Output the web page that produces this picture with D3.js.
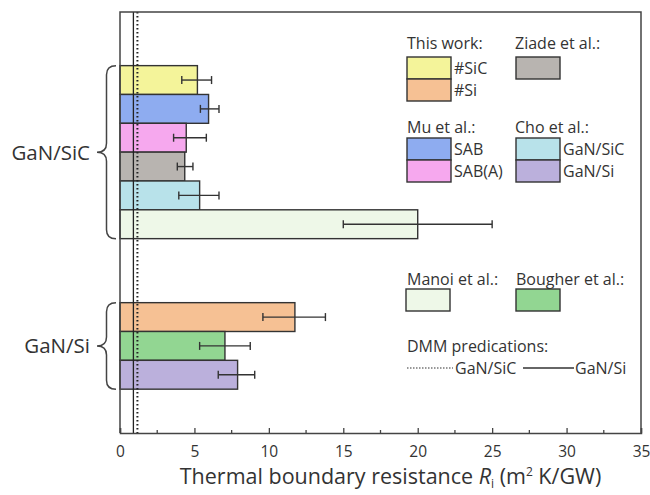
<!DOCTYPE html>
<html>
<head>
<meta charset="utf-8">
<script src="https://cdn.jsdelivr.net/npm/d3@7"></script>
<style>
  body { margin: 0; background: #fff; }
  text { font-family: "Open Sans", Lato, sans-serif; fill: #333; }
</style>
</head>
<body>
<div class="chart"></div>
<script>
// TBR bar chart, GaN/SiC vs GaN/Si

var svgWidth = 650;
var svgHeight = 495;

// data
var barNames = ["This work #SiC", "Mu SAB", "Mu SAB(A)", "Ziade", "Cho GaN/SiC", "Manoi",
                "This work #Si", "Bougher", "Cho GaN/Si"];
var barGroups = ["GaN/SiC", "GaN/SiC", "GaN/SiC", "GaN/SiC", "GaN/SiC", "GaN/SiC",
                 "GaN/Si", "GaN/Si", "GaN/Si"];
var tbrValues = [5.2, 5.95, 4.45, 4.35, 5.35, 20.0, 11.75, 7.05, 7.9];
var errLow = [4.15, 5.4, 3.6, 3.85, 3.95, 15.0, 9.6, 5.35, 6.6];
var errHigh = [6.15, 6.65, 5.8, 4.9, 6.65, 25.0, 13.8, 8.75, 9.05];
var groupNames = ["GaN/SiC", "GaN/Si"];
var dmmNames = ["GaN/SiC", "GaN/Si"];
var dmmValues = [1.17, 0.9];
var xTicks = [0, 5, 10, 15, 20, 25, 30, 35];

var barColors = ["#f4f49a", "#8eacf0", "#f6a8ee", "#b8b4b0", "#b8e2ea", "#eef8e8",
                 "#f6c194", "#92d692", "#bbb0dc"];

var color = d3.scaleOrdinal().domain(barNames).range(barColors);

var margin = { top: 12, right: 9, bottom: 62, left: 120 };

var svg = d3.select(".chart")
  .append("svg")
  .attr("width", svgWidth)
  .attr("height", svgHeight);

var x = d3.scaleLinear()
  .domain([0, 35])
  .range([margin.left, svgWidth - margin.right]);

// vertical layout in "row" units; second group is pushed down by a gap
var y = d3.scaleLinear()
  .domain([0, 14.6])
  .range([margin.top, svgHeight - margin.bottom]);

function slot(i) {
  return 1.86 + i + (barGroups[i] === "GaN/Si" ? 2.22 : 0);
}

var bars = barNames.map(function(name, i) {
  return { name: name, group: barGroups[i], value: tbrValues[i], lo: errLow[i], hi: errHigh[i], s: slot(i) };
});

// bars
svg.append("g").selectAll("rect")
  .data(bars)
  .enter().append("rect")
    .attr("x", x(0))
    .attr("y", function(d) { return y(d.s); })
    .attr("width", function(d) { return x(d.value) - x(0); })
    .attr("height", function(d) { return y(d.s + 1) - y(d.s); })
    .attr("fill", function(d) { return color(d.name); })
    .attr("stroke", "#333")
    .attr("stroke-width", 1.4);

// error bars
var err = svg.append("g").attr("stroke", "#333").attr("stroke-width", 1.4);
err.selectAll("line.e")
  .data(bars)
  .enter().append("line")
    .attr("class", "e")
    .attr("x1", function(d) { return x(d.lo); })
    .attr("x2", function(d) { return x(d.hi); })
    .attr("y1", function(d) { return y(d.s + 0.5); })
    .attr("y2", function(d) { return y(d.s + 0.5); });
bars.forEach(function(d) {
  [d.lo, d.hi].forEach(function(v) {
    err.append("line")
      .attr("x1", x(v)).attr("x2", x(v))
      .attr("y1", y(d.s + 0.5) - 4).attr("y2", y(d.s + 0.5) + 4);
  });
});

// DMM prediction lines
svg.append("g").selectAll("line")
  .data(dmmValues)
  .enter().append("line")
    .attr("x1", function(d) { return x(d); })
    .attr("x2", function(d) { return x(d); })
    .attr("y1", y(0))
    .attr("y2", y(14.6))
    .attr("stroke", "#222")
    .attr("stroke-width", function(d, i) { return i === 0 ? 2 : 1.3; })
    .attr("stroke-dasharray", function(d, i) { return i === 0 ? "1.6,2.4" : null; });

// frame
svg.append("path")
  .attr("d", "M" + x(0) + "," + y(14.6) + "V" + y(0) + "H" + x(35) + "V" + y(14.6))
  .attr("fill", "none")
  .attr("stroke", "#444")
  .attr("stroke-width", 1.5);

// x axis, ticks point inward
var bottomAxis = d3.axisBottom(x).tickValues(xTicks).tickSize(-5).tickPadding(13);
var xAxis = svg.append("g")
  .attr("transform", "translate(0," + y(14.6) + ")")
  .call(bottomAxis);
xAxis.select(".domain").attr("stroke", "#444").attr("stroke-width", 1.5);
xAxis.selectAll(".tick line").attr("stroke", "#444").attr("stroke-width", 1.3);
xAxis.selectAll("text").style("font-size", "15.5px").attr("fill", "#444")
  .style("font-family", "'Open Sans', sans-serif");
xAxis.selectAll(".minor")
  .data(d3.range(2.5, 35, 5))
  .enter().append("line")
    .attr("class", "minor")
    .attr("x1", function(d) { return x(d); })
    .attr("x2", function(d) { return x(d); })
    .attr("y1", 0).attr("y2", -3)
    .attr("stroke", "#444").attr("stroke-width", 1.3);

// axis title
var title = svg.append("text")
  .attr("x", (x(0) + x(35)) / 2 + 10)
  .attr("y", 484)
  .attr("text-anchor", "middle")
  .style("font-size", "21.5px");
title.append("tspan").text("Thermal boundary resistance ");
title.append("tspan").style("font-style", "italic").text("R");
title.append("tspan").attr("dy", 4).style("font-size", "12px").text("i");
title.append("tspan").attr("dy", -4).text(" (m");
title.append("tspan").attr("dy", -8).style("font-size", "12px").text("2");
title.append("tspan").attr("dy", 8).text(" K/GW)");

// group braces and labels
groupNames.forEach(function(g) {
  var idx = d3.range(barNames.length).filter(function(i) { return barGroups[i] === g; });
  var y0 = y(slot(idx[0])), y1 = y(slot(idx[idx.length - 1]) + 1), ym = (y0 + y1) / 2;
  var xr = 116, xs = 106.5, xt = 97, r = 9;
  svg.append("path")
    .attr("d", "M" + xr + "," + y0 + "Q" + xs + "," + y0 + " " + xs + "," + (y0 + r) +
      "V" + (ym - r) + "Q" + xs + "," + ym + " " + xt + "," + ym +
      "Q" + xs + "," + ym + " " + xs + "," + (ym + r) +
      "V" + (y1 - r) + "Q" + xs + "," + y1 + " " + xr + "," + y1)
    .attr("fill", "none")
    .attr("stroke", "#444")
    .attr("stroke-width", 1.5);
  svg.append("text")
    .attr("x", 90)
    .attr("y", ym + 7.5)
    .attr("text-anchor", "end")
    .style("font-size", "20.5px")
    .text(g);
});

// legend
var legend = svg.append("g").style("font-size", "16px");
function head(px, py, t) {
  legend.append("text").attr("x", px).attr("y", py).text(t);
}
function swatch(px, py, name, t) {
  legend.append("rect")
    .attr("x", px).attr("y", py).attr("width", 44).attr("height", 22)
    .attr("fill", color(name)).attr("stroke", "#333").attr("stroke-width", 1.4);
  if (t) legend.append("text").attr("x", px + 47).attr("y", py + 16.5).text(t);
}
head(407, 48.5, "This work:");
swatch(407, 57, barNames[0], "#SiC");
swatch(407, 79, barNames[6], "#Si");
head(515, 48.5, "Ziade et al.:");
swatch(516, 57, barNames[3]);
head(407, 132.5, "Mu et al.:");
swatch(407, 138, barNames[1], "SAB");
swatch(407, 160, barNames[2], "SAB(A)");
head(515, 132.5, "Cho et al.:");
swatch(516, 138, barNames[4], "GaN/SiC");
swatch(516, 160, barNames[8], "GaN/Si");
head(407, 284.5, "Manoi et al.:");
swatch(406, 289, barNames[5]);
head(516, 284.5, "Bougher et al.:");
swatch(516, 289, barNames[7]);
head(407, 351.5, "DMM predications:");
legend.append("line")
  .attr("x1", 407).attr("x2", 453).attr("y1", 368).attr("y2", 368)
  .attr("stroke", "#333").attr("stroke-width", 1.2).attr("stroke-dasharray", "1.5,1.5");
legend.append("text").attr("x", 455).attr("y", 373.5).text(dmmNames[0]);
legend.append("line")
  .attr("x1", 523).attr("x2", 574).attr("y1", 368).attr("y2", 368)
  .attr("stroke", "#333").attr("stroke-width", 1.4);
legend.append("text").attr("x", 575).attr("y", 373.5).text(dmmNames[1]);
</script>
</body>
</html>
